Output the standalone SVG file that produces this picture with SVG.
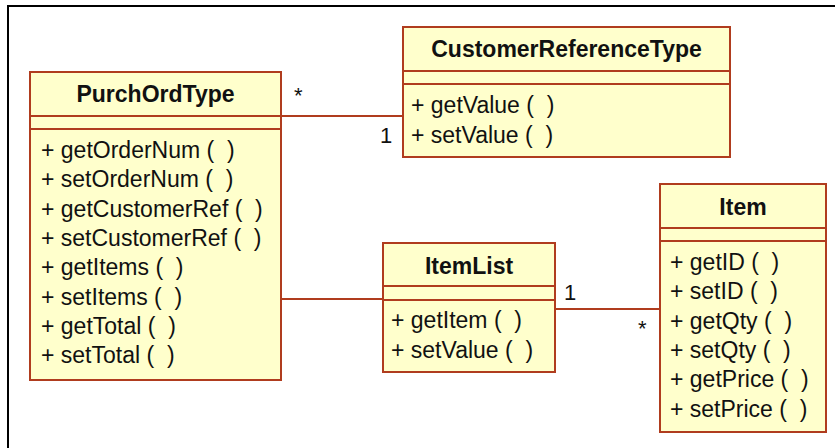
<svg xmlns="http://www.w3.org/2000/svg" width="835" height="448" viewBox="0 0 835 448">
<style>
.box{fill:#FFFFCC;stroke:#B03C1E;stroke-width:2}
.sep{stroke:#B03C1E;stroke-width:2;fill:none}
.conn{stroke:#B03C1E;stroke-width:2;fill:none}
.title{font-family:"Liberation Sans",Arial,sans-serif;font-weight:bold;font-size:23px;fill:#111;text-anchor:middle}
.m{font-family:"Liberation Sans",Arial,sans-serif;font-size:23px;fill:#111;white-space:pre}
.mult{font-family:"Liberation Sans",Arial,sans-serif;font-size:22px;fill:#111}
</style>
<rect x="0" y="0" width="835" height="448" fill="#FFFFFF"/>
<path d="M8,448 L8,6 L835,6" fill="none" stroke="#000" stroke-width="2"/>
<g id="connectors">
<line class="conn" x1="281" y1="116" x2="403" y2="116"/>
<line class="conn" x1="281" y1="299" x2="383" y2="299"/>
<line class="conn" x1="555" y1="309" x2="660" y2="309"/>
<text class="mult" x="294" y="103">*</text>
<text class="mult" x="380" y="143">1</text>
<text class="mult" x="564" y="300">1</text>
<text class="mult" x="638" y="336">*</text>
</g>
<g id="PurchOrdType">
<rect class="box" x="30" y="72" width="251" height="308"/>
<line class="sep" x1="30" y1="116" x2="281" y2="116"/>
<line class="sep" x1="30" y1="129" x2="281" y2="129"/>
<text class="title" x="155.5" y="102">PurchOrdType</text>
<text class="m" x="41" y="158">+ getOrderNum (  )</text>
<text class="m" x="41" y="187.3">+ setOrderNum (  )</text>
<text class="m" x="41" y="216.6">+ getCustomerRef (  )</text>
<text class="m" x="41" y="245.9">+ setCustomerRef (  )</text>
<text class="m" x="41" y="275.2">+ getItems (  )</text>
<text class="m" x="41" y="304.5">+ setItems (  )</text>
<text class="m" x="41" y="333.8">+ getTotal (  )</text>
<text class="m" x="41" y="363.1">+ setTotal (  )</text>
</g>
<g id="CustomerReferenceType">
<rect class="box" x="403" y="27" width="327" height="130"/>
<line class="sep" x1="403" y1="71" x2="730" y2="71"/>
<line class="sep" x1="403" y1="84" x2="730" y2="84"/>
<text class="title" x="566.5" y="57">CustomerReferenceType</text>
<text class="m" x="411" y="113">+ getValue (  )</text>
<text class="m" x="411" y="142.5">+ setValue (  )</text>
</g>
<g id="ItemList">
<rect class="box" x="383" y="243" width="172" height="129"/>
<line class="sep" x1="383" y1="286" x2="555" y2="286"/>
<line class="sep" x1="383" y1="300" x2="555" y2="300"/>
<text class="title" x="469" y="274">ItemList</text>
<text class="m" x="391" y="328">+ getItem (  )</text>
<text class="m" x="391" y="357.5">+ setValue (  )</text>
</g>
<g id="Item">
<rect class="box" x="660" y="184" width="166" height="248"/>
<line class="sep" x1="660" y1="228" x2="826" y2="228"/>
<line class="sep" x1="660" y1="241" x2="826" y2="241"/>
<text class="title" x="743" y="215">Item</text>
<text class="m" x="670" y="270">+ getID (  )</text>
<text class="m" x="670" y="299.3">+ setID (  )</text>
<text class="m" x="670" y="328.6">+ getQty (  )</text>
<text class="m" x="670" y="357.9">+ setQty (  )</text>
<text class="m" x="670" y="387.2">+ getPrice (  )</text>
<text class="m" x="670" y="416.5">+ setPrice (  )</text>
</g>
</svg>
